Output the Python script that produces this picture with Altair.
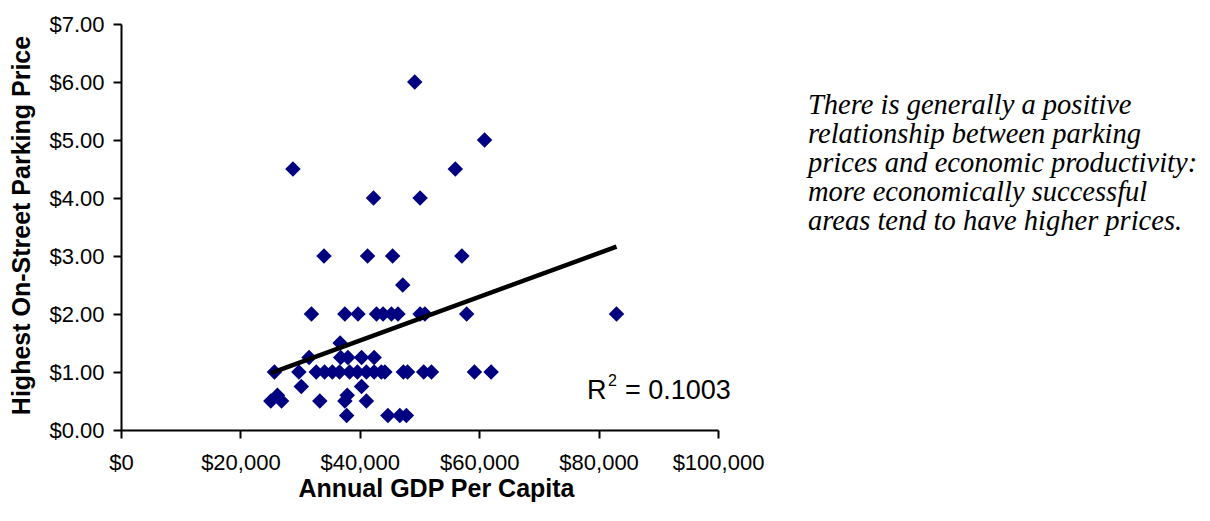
import altair as alt
import pandas as pd

# Annual GDP per capita (USD) and highest on-street parking price (USD/hour)
gdp = [
    49200,
    60900,
    28800, 56000,
    42300, 50100,
    34000, 41300, 45500, 57100,
    47200,
    31900, 37500, 39700, 42800, 43900, 45300, 46400, 50100, 50900, 57900, 83000,
    36700,
    31500, 36800, 38000, 40300, 42400,
    25700, 29800, 32700, 34100, 35400, 36600, 38300, 39600, 41100, 42400, 43600,
    44200, 47300, 48000, 50700, 52000, 59200, 62000,
    30200, 40300,
    26200, 37900,
    25100, 26900, 33300, 37500, 41100,
    37800, 44700, 46700, 47800,
]
price = [
    6.00,
    5.00,
    4.50, 4.50,
    4.00, 4.00,
    3.00, 3.00, 3.00, 3.00,
    2.50,
    2.00, 2.00, 2.00, 2.00, 2.00, 2.00, 2.00, 2.00, 2.00, 2.00, 2.00,
    1.50,
    1.25, 1.25, 1.25, 1.25, 1.25,
    1.00, 1.00, 1.00, 1.00, 1.00, 1.00, 1.00, 1.00, 1.00, 1.00, 1.00,
    1.00, 1.00, 1.00, 1.00, 1.00, 1.00, 1.00,
    0.75, 0.75,
    0.60, 0.60,
    0.50, 0.50, 0.50, 0.50, 0.50,
    0.25, 0.25, 0.25, 0.25,
]

x_title = "Annual GDP Per Capita"
y_title = "Highest On-Street Parking Price"
r2_main = "R"
r2_sup = "2"
r2_value = "= 0.1003"
note_lines = [
    "There is generally a positive",
    "relationship between parking",
    "prices and economic productivity:",
    "more economically successful",
    "areas tend to have higher prices.",
]

df = pd.DataFrame({"gdp": gdp, "price": price})
one = pd.DataFrame({"k": [0]})

FONT = "Liberation Sans"

x_enc = alt.X(
    "gdp:Q",
    scale=alt.Scale(domain=[0, 100000], nice=False),
    axis=alt.Axis(
        title=x_title,
        values=[0, 20000, 40000, 60000, 80000, 100000],
        format="$,.0f",
        grid=False,
        labelOverlap=False,
        labelFlush=False,
        domainColor="black",
        domainWidth=2,
        tickColor="black",
        tickWidth=2,
        tickSize=8,
        labelColor="black",
        labelFont=FONT,
        labelFontSize=22,
        labelPadding=14,
        titleFont=FONT,
        titleFontSize=25,
        titleFontWeight="bold",
        titleColor="black",
        titleX=315,
        titleY=46,
    ),
)
y_enc = alt.Y(
    "price:Q",
    scale=alt.Scale(domain=[0, 7], nice=False),
    axis=alt.Axis(
        title=y_title,
        values=[0, 1, 2, 3, 4, 5, 6, 7],
        format="$.2f",
        grid=False,
        labelOverlap=False,
        labelFlush=False,
        domainColor="black",
        domainWidth=2,
        tickColor="black",
        tickWidth=2,
        tickSize=8,
        labelColor="black",
        labelFont=FONT,
        labelFontSize=22,
        labelPadding=9,
        titleFont=FONT,
        titleFontSize=25,
        titleFontWeight="bold",
        titleColor="black",
        titleX=-87,
        titleY=201,
    ),
)

points = alt.Chart(df).mark_point(
    shape="diamond", filled=True, color="#000080", size=240, opacity=1
).encode(x=x_enc, y=y_enc)

trend = (
    alt.Chart(df)
    .transform_regression("gdp", "price")
    .mark_line(color="black", strokeWidth=4.5)
    .encode(x="gdp:Q", y="price:Q")
)

r2_r = alt.Chart(one).mark_text(
    text=r2_main, font=FONT, fontSize=27, color="black", align="left", baseline="alphabetic"
).encode(x=alt.value(466), y=alt.value(375))
r2_s = alt.Chart(one).mark_text(
    text=r2_sup, font=FONT, fontSize=16, color="black", align="left", baseline="alphabetic"
).encode(x=alt.value(487), y=alt.value(362))
r2_v = alt.Chart(one).mark_text(
    text=r2_value, font=FONT, fontSize=27, color="black", align="left", baseline="alphabetic"
).encode(x=alt.value(504), y=alt.value(375))

note = alt.Chart(one).mark_text(
    text=note_lines,
    font="Liberation Serif",
    fontStyle="italic",
    fontSize=28.5,
    lineHeight=29,
    color="black",
    align="left",
    baseline="alphabetic",
).encode(x=alt.value(687), y=alt.value(90))

chart = (
    alt.layer(points, trend, r2_r, r2_s, r2_v, note)
    .properties(
        width=597,
        height=406,
        autosize=alt.AutoSizeParams(type="none"),
        padding={"left": 113, "top": 16, "right": 484, "bottom": 83},
    )
    .configure_view(stroke=None)
)

chart.save("out.html", embed_options={"renderer": "svg", "actions": False})
